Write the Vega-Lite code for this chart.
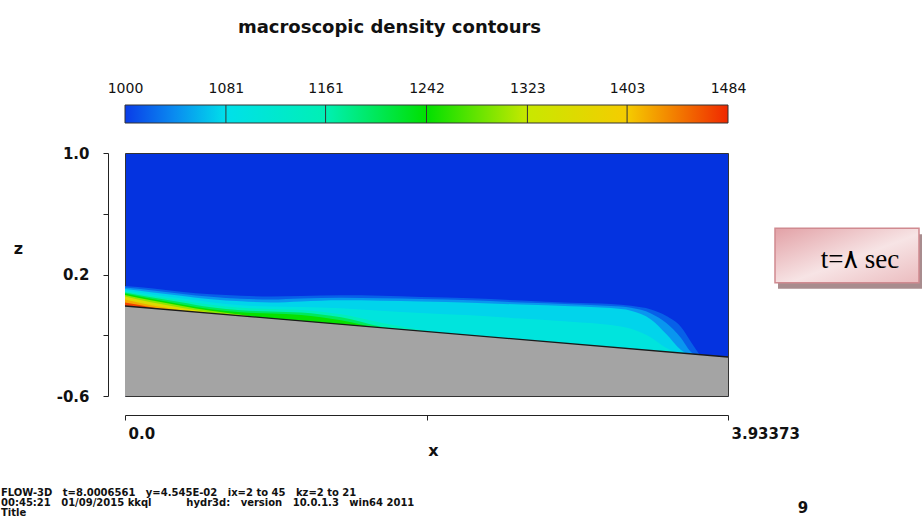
{
  "$schema": "https://vega.github.io/schema/vega-lite/v6.json",
  "background": "white",
  "autosize": {"type": "pad"},
  "padding": {"left": 0, "top": 19, "right": 0, "bottom": 0},
  "bounds": "flush",
  "spacing": 30,
  "datasets": {
    "cbar": [{"lo": 1000, "hi": 1484}],
    "cticks": [{"v": 1081}, {"v": 1161}, {"v": 1242}, {"v": 1323}, {"v": 1403}],
    "ground": [{"x": 0, "zg": -0.0074}, {"x": 3.93373, "zg": -0.3432}],
    "shadow": [{"x1": 4.2599, "x2": 5.1993, "z1": 0.4647, "z2": 0.1065}],
    "box": [{"x1": 4.2403, "x2": 5.1797, "z1": 0.5042, "z2": 0.146}],
    "boxtext": [{"x": 4.7948, "z": 0.2448, "t": "t=۸ sec"}],
    "footer": [{"x": -0.8089, "z": -1.259, "t": "FLOW-3D\u00a0\u00a0\u00a0t=8.0006561\u00a0\u00a0\u00a0y=4.545E-02\u00a0\u00a0\u00a0ix=2 to 45\u00a0\u00a0\u00a0kz=2 to 21\n00:45:21\u00a0\u00a0\u00a001/09/2015 kkql\u00a0\u00a0\u00a0\u00a0\u00a0\u00a0\u00a0\u00a0\u00a0\u00a0hydr3d:\u00a0\u00a0\u00a0version\u00a0\u00a0\u00a010.0.1.3\u00a0\u00a0\u00a0win64 2011\nTitle"}],
    "page": [{"x": 4.423, "z": -1.3724, "t": "9"}],
    "plume": [
      {"lev": 1020, "x": 0, "top": 0.1243}, {"lev": 1020, "x": 0.1696, "top": 0.1098}, {"lev": 1020, "x": 0.3653, "top": 0.0867}, {"lev": 1020, "x": 0.561, "top": 0.0696}, {"lev": 1020, "x": 0.7567, "top": 0.0598}, {"lev": 1020, "x": 0.9524, "top": 0.0557}, {"lev": 1020, "x": 1.1482, "top": 0.0591}, {"lev": 1020, "x": 1.4091, "top": 0.063}, {"lev": 1020, "x": 1.67, "top": 0.0604}, {"lev": 1020, "x": 1.931, "top": 0.0519}, {"lev": 1020, "x": 2.2572, "top": 0.0433}, {"lev": 1020, "x": 2.5833, "top": 0.0288}, {"lev": 1020, "x": 2.9095, "top": 0.0143}, {"lev": 1020, "x": 3.1705, "top": 0.0051}, {"lev": 1020, "x": 3.3009, "top": -0.0061}, {"lev": 1020, "x": 3.4314, "top": -0.0305}, {"lev": 1020, "x": 3.5293, "top": -0.072}, {"lev": 1020, "x": 3.6271, "top": -0.1457}, {"lev": 1020, "x": 3.6923, "top": -0.2438}, {"lev": 1020, "x": 3.7576, "top": -0.3413},
      {"lev": 1045, "x": 0, "top": 0.1144}, {"lev": 1045, "x": 0.1696, "top": 0.0966}, {"lev": 1045, "x": 0.3653, "top": 0.0735}, {"lev": 1045, "x": 0.561, "top": 0.0531}, {"lev": 1045, "x": 0.7567, "top": 0.04}, {"lev": 1045, "x": 0.9524, "top": 0.036}, {"lev": 1045, "x": 1.1482, "top": 0.0426}, {"lev": 1045, "x": 1.4091, "top": 0.0466}, {"lev": 1045, "x": 1.67, "top": 0.0439}, {"lev": 1045, "x": 1.931, "top": 0.0387}, {"lev": 1045, "x": 2.2572, "top": 0.0301}, {"lev": 1045, "x": 2.5833, "top": 0.0156}, {"lev": 1045, "x": 2.9095, "top": 0.0045}, {"lev": 1045, "x": 3.1705, "top": -0.0081}, {"lev": 1045, "x": 3.3009, "top": -0.0193}, {"lev": 1045, "x": 3.4314, "top": -0.0568}, {"lev": 1045, "x": 3.5293, "top": -0.1181}, {"lev": 1045, "x": 3.6271, "top": -0.2181}, {"lev": 1045, "x": 3.6923, "top": -0.3096}, {"lev": 1045, "x": 3.7576, "top": -0.3413},
      {"lev": 1075, "x": 0, "top": 0.1045}, {"lev": 1075, "x": 0.1696, "top": 0.0834}, {"lev": 1075, "x": 0.3653, "top": 0.0604}, {"lev": 1075, "x": 0.561, "top": 0.0367}, {"lev": 1075, "x": 0.7567, "top": 0.0236}, {"lev": 1075, "x": 0.9524, "top": 0.0162}, {"lev": 1075, "x": 1.1482, "top": 0.0229}, {"lev": 1075, "x": 1.4091, "top": 0.0301}, {"lev": 1075, "x": 1.67, "top": 0.0275}, {"lev": 1075, "x": 1.931, "top": 0.0222}, {"lev": 1075, "x": 2.2572, "top": 0.0137}, {"lev": 1075, "x": 2.5833, "top": 0.0024}, {"lev": 1075, "x": 2.9095, "top": -0.0087}, {"lev": 1075, "x": 3.1705, "top": -0.0212}, {"lev": 1075, "x": 3.3009, "top": -0.039}, {"lev": 1075, "x": 3.4314, "top": -0.0963}, {"lev": 1075, "x": 3.5293, "top": -0.1905}, {"lev": 1075, "x": 3.6271, "top": -0.2971}, {"lev": 1075, "x": 3.6923, "top": -0.336},
      {"lev": 1100, "x": 0, "top": 0.0947}, {"lev": 1100, "x": 0.1696, "top": 0.0703}, {"lev": 1100, "x": 0.3653, "top": 0.0439}, {"lev": 1100, "x": 0.561, "top": 0.0169}, {"lev": 1100, "x": 0.7567, "top": -0.0028}, {"lev": 1100, "x": 0.9524, "top": -0.0101}, {"lev": 1100, "x": 1.1482, "top": -0.0133}, {"lev": 1100, "x": 1.4091, "top": -0.0226}, {"lev": 1100, "x": 1.67, "top": -0.0384}, {"lev": 1100, "x": 1.931, "top": -0.0535}, {"lev": 1100, "x": 2.2572, "top": -0.0686}, {"lev": 1100, "x": 2.5833, "top": -0.0897}, {"lev": 1100, "x": 2.9095, "top": -0.1108}, {"lev": 1100, "x": 3.1705, "top": -0.1332}, {"lev": 1100, "x": 3.3009, "top": -0.1575}, {"lev": 1100, "x": 3.4314, "top": -0.2148}, {"lev": 1100, "x": 3.5293, "top": -0.2827}, {"lev": 1100, "x": 3.6271, "top": -0.3301},
      {"lev": 1150, "x": 0, "top": 0.0881}, {"lev": 1150, "x": 0.1696, "top": 0.0604}, {"lev": 1150, "x": 0.3653, "top": 0.0307}, {"lev": 1150, "x": 0.561, "top": 0.0005}, {"lev": 1150, "x": 0.7567, "top": -0.0192}, {"lev": 1150, "x": 0.9524, "top": -0.0266}, {"lev": 1150, "x": 1.1482, "top": -0.0331}, {"lev": 1150, "x": 1.4091, "top": -0.0621}, {"lev": 1150, "x": 1.67, "top": -0.1174}, {"lev": 1150, "x": 1.931, "top": -0.1654}, {"lev": 1150, "x": 2.2572, "top": -0.2135},
      {"lev": 1200, "x": 0, "top": 0.0815}, {"lev": 1200, "x": 0.1696, "top": 0.0505}, {"lev": 1200, "x": 0.3653, "top": 0.0176}, {"lev": 1200, "x": 0.561, "top": -0.016}, {"lev": 1200, "x": 0.7567, "top": -0.0357}, {"lev": 1200, "x": 0.9524, "top": -0.043}, {"lev": 1200, "x": 1.1482, "top": -0.0495}, {"lev": 1200, "x": 1.4091, "top": -0.0818}, {"lev": 1200, "x": 1.67, "top": -0.1437}, {"lev": 1200, "x": 1.931, "top": -0.1852},
      {"lev": 1245, "x": 0, "top": 0.0749}, {"lev": 1245, "x": 0.1696, "top": 0.0406}, {"lev": 1245, "x": 0.3653, "top": 0.0044}, {"lev": 1245, "x": 0.561, "top": -0.0292}, {"lev": 1245, "x": 0.7567, "top": -0.0489}, {"lev": 1245, "x": 0.9524, "top": -0.0562}, {"lev": 1245, "x": 1.1482, "top": -0.066}, {"lev": 1245, "x": 1.4091, "top": -0.1016}, {"lev": 1245, "x": 1.67, "top": -0.1635},
      {"lev": 1300, "x": 0, "top": 0.065}, {"lev": 1300, "x": 0.1696, "top": 0.0308}, {"lev": 1300, "x": 0.3653, "top": -0.0055}, {"lev": 1300, "x": 0.561, "top": -0.039}, {"lev": 1300, "x": 0.7567, "top": -0.0653}, {"lev": 1300, "x": 0.9524, "top": -0.1023},
      {"lev": 1360, "x": 0, "top": 0.0551}, {"lev": 1360, "x": 0.1696, "top": 0.0176}, {"lev": 1360, "x": 0.3653, "top": -0.0186}, {"lev": 1360, "x": 0.561, "top": -0.0522}, {"lev": 1360, "x": 0.7567, "top": -0.0851},
      {"lev": 1420, "x": 0, "top": 0.0354}, {"lev": 1420, "x": 0.1696, "top": -0.0021}, {"lev": 1420, "x": 0.3653, "top": -0.0351}, {"lev": 1420, "x": 0.561, "top": -0.0687},
      {"lev": 1470, "x": 0, "top": 0.0156}, {"lev": 1470, "x": 0.1696, "top": -0.0153}, {"lev": 1470, "x": 0.3653, "top": -0.0516}
    ]
  },
  "vconcat": [
    {
      "width": 603,
      "height": 18,
      "title": {"text": "macroscopic density contours", "anchor": "middle", "frame": "group", "dx": -37, "offset": 44, "fontSize": 18, "fontWeight": "bold", "font": "DejaVu Sans", "color": "#111"},
      "view": {"stroke": null},
      "layer": [
        {
          "data": {"name": "cbar"},
          "mark": {"type": "rect", "stroke": "#333", "strokeWidth": 1,
            "fill": {"gradient": "linear", "x1": 0, "y1": 0, "x2": 1, "y2": 0, "stops": [
              {"offset": 0, "color": "#0a3ce8"}, {"offset": 0.0826, "color": "#0a8cf0"}, {"offset": 0.1674, "color": "#00e0ea"},
              {"offset": 0.3326, "color": "#00f0b4"}, {"offset": 0.5, "color": "#00e000"}, {"offset": 0.6674, "color": "#c8e800"},
              {"offset": 0.8326, "color": "#f5cc00"}, {"offset": 1, "color": "#f02800"}]}},
          "encoding": {
            "x": {"field": "lo", "type": "quantitative", "scale": {"domain": [1000, 1484], "nice": false, "zero": false},
              "axis": {"orient": "top", "values": [1000, 1081, 1161, 1242, 1323, 1403, 1484], "format": "d", "domain": false, "ticks": false, "tickSize": 0, "grid": false, "labelPadding": 13, "labelBaseline": "alphabetic", "labelFont": "DejaVu Sans", "labelFontSize": 14, "labelColor": "#111", "labelFlush": false, "labelOverlap": false, "title": null}},
            "x2": {"field": "hi"}
          }
        },
        {
          "data": {"name": "cticks"},
          "mark": {"type": "rule", "color": "#333", "strokeWidth": 1},
          "encoding": {"x": {"field": "v", "type": "quantitative"}}
        }
      ]
    },
    {
      "width": 603,
      "height": 243,
      "view": {"fill": "#0433e0", "stroke": "#333", "strokeWidth": 1},
      "layer": [
        {
          "data": {"name": "plume"},
          "mark": {"type": "area", "interpolate": "monotone"},
          "encoding": {
            "x": {"field": "x", "type": "quantitative", "scale": {"domain": [0, 3.93373], "nice": false, "zero": false},
              "axis": {"orient": "bottom", "offset": 19, "values": [0, 1.966865, 3.93373], "labelExpr": "datum.value < 0.01 ? '0.0' : (datum.value > 3.9 ? '3.93373' : '')", "tickSize": 5, "labelPadding": 6, "labelAlign": "left", "labelOffset": 3, "labelBaseline": "top", "labelFont": "DejaVu Sans", "labelFontSize": 15, "labelFontWeight": "bold", "labelFlush": false, "labelOverlap": false, "domainColor": "#222", "tickColor": "#222", "labelColor": "#111", "grid": false,
                "title": "x", "titleX": 308, "titleY": 35, "titleAlign": "center", "titleBaseline": "middle", "titleFont": "DejaVu Sans", "titleFontSize": 16, "titleFontWeight": "bold", "titleColor": "#111"}},
            "y": {"field": "top", "type": "quantitative", "scale": {"domain": [-0.6, 1], "nice": false, "zero": false},
              "axis": {"orient": "left", "offset": 17, "values": [1, 0.6, 0.2, -0.2, -0.6], "labelExpr": "datum.value > 0.9 ? '1.0' : (abs(datum.value - 0.2) < 0.001 ? '0.2' : (abs(datum.value + 0.6) < 0.001 ? '-0.6' : ''))", "tickSize": 5, "labelPadding": 14, "labelFont": "DejaVu Sans", "labelFontSize": 15, "labelFontWeight": "bold", "labelFlush": false, "labelOverlap": false, "domainColor": "#222", "tickColor": "#222", "labelColor": "#111", "grid": false,
                "title": "z", "titleAngle": 0, "titleX": -90, "titleY": 95, "titleAlign": "center", "titleBaseline": "middle", "titleFont": "DejaVu Sans", "titleFontSize": 16, "titleFontWeight": "bold", "titleColor": "#111"}},
            "y2": {"datum": -0.6},
            "color": {"field": "lev", "type": "quantitative", "legend": null,
              "scale": {"domain": [1000, 1040, 1081, 1161, 1242, 1323, 1403, 1484], "range": ["#0433e0", "#0a8cf0", "#00e0ea", "#00f0b4", "#00e000", "#c8e800", "#f5cc00", "#f02800"], "interpolate": "rgb"}},
            "detail": {"field": "lev"}
          }
        },
        {
          "data": {"name": "ground"},
          "mark": {"type": "area", "color": "#a4a4a4"},
          "encoding": {
            "x": {"field": "x", "type": "quantitative"},
            "y": {"field": "zg", "type": "quantitative"},
            "y2": {"datum": -0.6}
          }
        },
        {
          "data": {"name": "ground"},
          "mark": {"type": "line", "color": "#1a1a1a", "strokeWidth": 1.3},
          "encoding": {
            "x": {"field": "x", "type": "quantitative"},
            "y": {"field": "zg", "type": "quantitative"}
          }
        },
        {
          "data": {"name": "shadow"},
          "mark": {"type": "rect", "color": "#a88c8e"},
          "encoding": {
            "x": {"field": "x1", "type": "quantitative"}, "x2": {"field": "x2"},
            "y": {"field": "z1", "type": "quantitative"}, "y2": {"field": "z2"}
          }
        },
        {
          "data": {"name": "box"},
          "mark": {"type": "rect", "stroke": "#d08a90", "strokeWidth": 1.5,
            "fill": {"gradient": "linear", "x1": 0, "y1": 0, "x2": 1, "y2": 1, "stops": [{"offset": 0, "color": "#e2a1a6"}, {"offset": 0.55, "color": "#f7e4e5"}, {"offset": 1, "color": "#ebbcbf"}]}},
          "encoding": {
            "x": {"field": "x1", "type": "quantitative"}, "x2": {"field": "x2"},
            "y": {"field": "z1", "type": "quantitative"}, "y2": {"field": "z2"}
          }
        },
        {
          "data": {"name": "boxtext"},
          "mark": {"type": "text", "font": "Liberation Serif, DejaVu Sans, serif", "fontSize": 27, "align": "center", "baseline": "alphabetic", "color": "#000"},
          "encoding": {
            "x": {"field": "x", "type": "quantitative"},
            "y": {"field": "z", "type": "quantitative"},
            "text": {"field": "t"}
          }
        },
        {
          "data": {"name": "footer"},
          "mark": {"type": "text", "font": "DejaVu Sans", "fontSize": 10, "fontWeight": "bold", "align": "left", "baseline": "alphabetic", "lineBreak": "\n", "lineHeight": 10, "color": "#111"},
          "encoding": {
            "x": {"field": "x", "type": "quantitative"},
            "y": {"field": "z", "type": "quantitative"},
            "text": {"field": "t"}
          }
        },
        {
          "data": {"name": "page"},
          "mark": {"type": "text", "font": "DejaVu Sans", "fontSize": 15, "fontWeight": "bold", "align": "center", "baseline": "alphabetic", "color": "#111"},
          "encoding": {
            "x": {"field": "x", "type": "quantitative"},
            "y": {"field": "z", "type": "quantitative"},
            "text": {"field": "t"}
          }
        }
      ]
    }
  ],
  "config": {"font": "Liberation Sans", "view": {"stroke": null}}
}
